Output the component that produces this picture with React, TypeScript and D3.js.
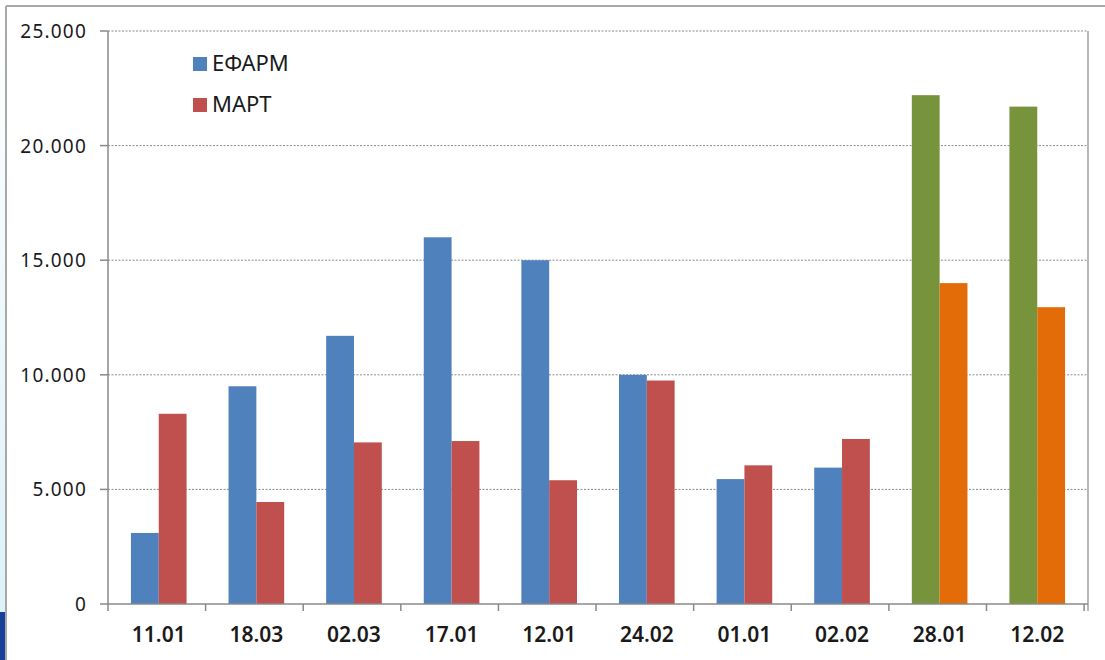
import React from "react";
import * as d3 from "d3";

const categories = ["11.01", "18.03", "02.03", "17.01", "12.01", "24.02", "01.01", "02.02", "28.01", "12.02"];
const efarmValues = [3100, 9500, 11700, 16000, 15000, 10000, 5450, 5950, 22200, 21700];
const martValues = [8300, 4450, 7050, 7110, 5400, 9750, 6050, 7200, 14000, 12950];
const highlighted = ["28.01", "12.02"];
const yTicks = [0, 5000, 10000, 15000, 20000, 25000];
const seriesNames = ["ЕФАРМ", "МАРТ"];

const BLUE = "#4F81BD";
const RED = "#C0504D";
const GREEN = "#77933C";
const ORANGE = "#E36C09";

export default function App() {
  const W = 1105, H = 660;
  const left = 108, right = 1088, top = 31, bottom = 604;
  const x0 = d3.scaleBand<string>().domain(categories).range([left, right]).paddingInner(0.43).paddingOuter(0.235);
  const x1 = d3.scaleBand<string>().domain(["a", "b"]).range([0, x0.bandwidth()]);
  const y = d3.scaleLinear().domain([0, 25000]).range([bottom, top]);
  const step = x0.step();
  const fmt = (v: number) => (v === 0 ? "0" : d3.format(",")(v).replace(/,/g, "."));
  const font = "'Noto Sans', 'Open Sans', sans-serif";

  return (
    <svg width={W} height={H} style={{ position: "absolute", left: 0, top: 0, background: "#fff" }}>
      <defs>
        <linearGradient id="strip" x1="0" y1="0" x2="0" y2="1">
          <stop offset="0" stopColor="#ffffff" />
          <stop offset="1" stopColor="#dcf2f8" />
        </linearGradient>
      </defs>
      <rect x={0} y={0} width={W} height={H} fill="#fff" />
      <rect x={0} y={0} width={6} height={612} fill="url(#strip)" />
      <rect x={0} y={612} width={6} height={48} fill="#17409a" />
      <line x1={6} x2={W} y1={6} y2={6} stroke="#a8a8a8" strokeWidth={2} />
      <line x1={6} x2={6} y1={6} y2={H} stroke="#a8a8a8" strokeWidth={2} />

      {yTicks.filter((t) => t > 0).map((t) => (
        <line key={"g" + t} x1={left} x2={right} y1={y(t)} y2={y(t)} stroke="#8a8a8a" strokeWidth={1} strokeDasharray="2,1.5" />
      ))}

      {categories.map((c, i) => {
        const hl = highlighted.includes(c);
        const bx = x0(c)!;
        return (
          <g key={c}>
            <rect x={bx + x1("a")!} y={y(efarmValues[i])} width={x1.bandwidth()} height={bottom - y(efarmValues[i])} fill={hl ? GREEN : BLUE} />
            <rect x={bx + x1("b")!} y={y(martValues[i])} width={x1.bandwidth()} height={bottom - y(martValues[i])} fill={hl ? ORANGE : RED} />
          </g>
        );
      })}

      <line x1={left} x2={left} y1={top} y2={bottom} stroke="#8a8a8a" strokeWidth={1.5} />
      <line x1={right} x2={right} y1={top} y2={bottom + 7} stroke="#a0a0a0" strokeWidth={1.5} />
      <line x1={left} x2={right} y1={bottom} y2={bottom} stroke="#8a8a8a" strokeWidth={1.5} />

      {yTicks.map((t) => (
        <g key={"y" + t}>
          <line x1={left - 8} x2={left} y1={y(t)} y2={y(t)} stroke="#8a8a8a" strokeWidth={1.5} />
          <text x={87} y={y(t) + 7} textAnchor="end" fontFamily={font} fontSize={19} letterSpacing={1.2} fill="#1a1a1a">
            {fmt(t)}
          </text>
        </g>
      ))}

      {d3.range(categories.length + 1).map((i) => (
        <line key={"t" + i} x1={left + i * step} x2={left + i * step} y1={bottom} y2={bottom + 7} stroke="#8a8a8a" strokeWidth={1.5} />
      ))}

      {categories.map((c) => (
        <text key={"l" + c} x={x0(c)! + x0.bandwidth() / 2} y={642} textAnchor="middle" fontFamily={font} fontSize={21} fontWeight={600} fill="#1a1a1a">
          {c}
        </text>
      ))}

      {seriesNames.map((n, i) => (
        <g key={n}>
          <rect x={193} y={57 + i * 41} width={14} height={14} fill={i === 0 ? BLUE : RED} />
          <text x={212} y={71 + i * 41} fontFamily={font} fontSize={22} fill="#1a1a1a">
            {n}
          </text>
        </g>
      ))}
    </svg>
  );
}
